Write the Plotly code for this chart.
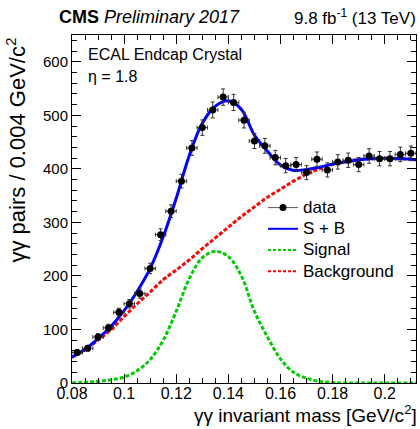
import plotly.graph_objects as go

# ---- data ----
bin_centers = [0.082, 0.086, 0.090, 0.094, 0.098, 0.102, 0.106, 0.110, 0.114, 0.118,
               0.122, 0.126, 0.130, 0.134, 0.138, 0.142, 0.146, 0.150, 0.154, 0.158,
               0.162, 0.166, 0.170, 0.174, 0.178, 0.182, 0.186, 0.190, 0.194, 0.198,
               0.202, 0.206, 0.210]
counts = [57, 65, 86, 103, 132, 148, 167, 214, 277, 321,
          377, 439, 477, 510, 534, 524, 491, 452, 443, 421,
          406, 408, 393, 418, 398, 413, 416, 408, 424, 419,
          419, 427, 429]
count_errors = [5.0, 5.3, 6.1, 6.7, 7.6, 8.0, 8.5, 9.7, 11.0, 11.8,
                12.8, 13.8, 14.4, 14.9, 15.3, 15.1, 14.6, 14.0, 13.9, 13.5,
                13.3, 13.3, 13.1, 13.5, 13.2, 13.4, 13.5, 13.3, 13.6, 13.5,
                13.5, 13.6, 13.7]
bin_half_width = 0.002

curve_x = [0.080, 0.085, 0.090, 0.095, 0.100, 0.105, 0.110, 0.115, 0.120, 0.125,
           0.130, 0.135, 0.140, 0.145, 0.150, 0.155, 0.160, 0.165, 0.170, 0.175,
           0.180, 0.185, 0.190, 0.195, 0.200, 0.205, 0.210, 0.212]
signal = [0, 1, 3, 6, 11, 23, 44, 80, 134, 195,
          234, 246, 236, 200, 134, 86, 45, 20, 9, 3,
          1, 0, 0, 0, 0, 0, 0, 0]
background = [48, 62, 80, 100, 124, 148, 170, 193, 211, 230,
              251, 271, 291, 311, 329, 347, 362, 377, 390, 400,
              408, 413, 417, 419, 420, 419, 418, 417]
s_plus_b = [s + b for s, b in zip(signal, background)]

x_tick_vals = [0.08, 0.10, 0.12, 0.14, 0.16, 0.18, 0.20]
x_tick_text = ["0.08", "0.1", "0.12", "0.14", "0.16", "0.18", "0.2"]
y_tick_vals = [0, 100, 200, 300, 400, 500, 600]

FONT = "Liberation Sans, Arial, Helvetica, sans-serif"

fig = go.Figure()

fig.add_trace(go.Scatter(x=curve_x, y=background, mode="lines", line_shape="spline",
                         line=dict(color="#ff0000", width=3, dash="4px,2px"),
                         name="Background", showlegend=False))
fig.add_trace(go.Scatter(x=curve_x, y=signal, mode="lines", line_shape="spline",
                         line=dict(color="#00cc00", width=3, dash="4px,2px"),
                         name="Signal", showlegend=False))
fig.add_trace(go.Scatter(x=curve_x, y=s_plus_b, mode="lines", line_shape="spline",
                         line=dict(color="#0000ff", width=3),
                         name="S + B", showlegend=False))
fig.add_trace(go.Scatter(x=bin_centers, y=counts, mode="markers",
                         marker=dict(color="black", size=7),
                         error_y=dict(type="data", array=count_errors, color="#333333",
                                      thickness=1, width=2),
                         error_x=dict(type="constant", value=bin_half_width, color="#333333",
                                      thickness=1, width=2),
                         name="data", showlegend=False))

# legend entries (text drawn a bit larger than the row spacing font)
def leg(name):
    return '<span style="font-size:17px">' + name + '</span>'

fig.add_trace(go.Scatter(x=[None], y=[None], mode="lines+markers",
                         line=dict(color="#555555", width=1),
                         marker=dict(color="black", size=7), name=leg("data")))
fig.add_trace(go.Scatter(x=[None], y=[None], mode="lines",
                         line=dict(color="#0000ff", width=2), name=leg("S + B")))
fig.add_trace(go.Scatter(x=[None], y=[None], mode="lines",
                         line=dict(color="#00cc00", width=2, dash="3px,2px"), name=leg("Signal")))
fig.add_trace(go.Scatter(x=[None], y=[None], mode="lines",
                         line=dict(color="#ff0000", width=2, dash="3px,2px"), name=leg("Background")))

axis_common = dict(showline=True, linecolor="black", linewidth=1, mirror="allticks",
                   ticks="inside", tickcolor="black", showgrid=False, zeroline=False)

fig.update_xaxes(range=[0.08, 0.212], tickvals=x_tick_vals, ticktext=x_tick_text,
                 ticklen=9, tickfont=dict(family=FONT, size=16, color="black"),
                 ticklabelstandoff=-4,
                 minor=dict(ticks="inside", ticklen=5, dtick=0.005, tick0=0.08,
                            tickcolor="black"),
                 **axis_common)
fig.update_yaxes(range=[0, 650], tickvals=y_tick_vals,
                 ticklen=9, tickfont=dict(family=FONT, size=15, color="black"),
                 minor=dict(ticks="inside", ticklen=5, dtick=20, tick0=0,
                            tickcolor="black"),
                 **axis_common)

def px_x(p):
    return (p - 72) / 344.0

def px_y(p):
    return 1 - (p - 35) / 348.0

annotations = [
    dict(text="<b>CMS</b> <i>Preliminary 2017</i>", x=px_x(57), y=px_y(17),
         xanchor="left", yanchor="middle", font=dict(family=FONT, size=18, color="black")),
    dict(text="9.8 fb<sup>-1</sup> (13 TeV)", x=px_x(418), y=px_y(17),
         xanchor="right", yanchor="middle", font=dict(family=FONT, size=17, color="black")),
    dict(text="γγ invariant mass [GeV/c<sup>2</sup>]", x=px_x(419), y=px_y(414),
         xanchor="right", yanchor="middle", font=dict(family=FONT, size=19, color="black")),
    dict(text="γγ pairs / 0.004 GeV/c<sup>2</sup>", x=px_x(15), y=px_y(36), textangle=-90,
         xanchor="center", yanchor="top", font=dict(family=FONT, size=22, color="black")),
    dict(text="ECAL Endcap Crystal", x=px_x(86), y=px_y(54),
         xanchor="left", yanchor="middle", font=dict(family=FONT, size=16, color="black")),
    dict(text="η = 1.8", x=px_x(86), y=px_y(76),
         xanchor="left", yanchor="middle", font=dict(family=FONT, size=16, color="black")),
]
for a in annotations:
    a.update(xref="paper", yref="paper", showarrow=False)

fig.update_layout(
    width=420, height=429,
    margin=dict(l=72, r=4, t=35, b=46),
    paper_bgcolor="white", plot_bgcolor="white",
    font=dict(family=FONT, color="black"),
    annotations=annotations,
    legend=dict(x=px_x(263), y=px_y(192), xanchor="left", yanchor="top",
                bgcolor="rgba(0,0,0,0)", borderwidth=0,
                font=dict(family=FONT, size=14, color="black"),
                tracegroupgap=0),
)

fig.write_html(
    "out.html",
    config={"displayModeBar": False},
    post_script="document.body.style.margin='0';document.body.style.overflow='hidden';",
)
